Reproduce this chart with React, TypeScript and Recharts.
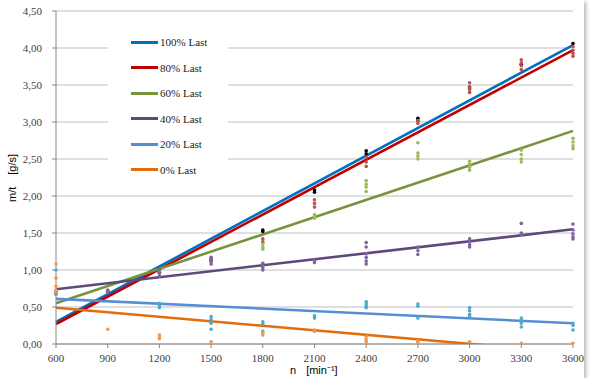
import React from 'react';
import { ComposedChart, Line, Scatter, XAxis, YAxis, CartesianGrid, Legend } from 'recharts';

// measured points [n in min-1, m/t in g/s]
const pts100 = [
  { n: 600, v: 0.70 }, { n: 900, v: 0.72 }, { n: 1200, v: 0.97 }, { n: 1500, v: 1.13 },
  { n: 1800, v: 1.54 }, { n: 1800, v: 1.52 }, { n: 2100, v: 2.08 }, { n: 2100, v: 2.05 },
  { n: 2400, v: 2.61 }, { n: 2400, v: 2.57 }, { n: 2700, v: 3.05 }, { n: 2700, v: 3.02 },
  { n: 3000, v: 3.46 }, { n: 3300, v: 3.78 }, { n: 3600, v: 4.06 },
];
const pts80 = [
  { n: 600, v: 0.70 }, { n: 900, v: 0.71 }, { n: 1200, v: 0.96 }, { n: 1500, v: 1.16 },
  { n: 1800, v: 1.42 }, { n: 1800, v: 1.38 }, { n: 2100, v: 1.95 }, { n: 2100, v: 1.90 }, { n: 2100, v: 1.85 },
  { n: 2400, v: 2.52 }, { n: 2400, v: 2.46 }, { n: 2400, v: 2.40 }, { n: 2700, v: 3.02 }, { n: 2700, v: 2.98 },
  { n: 3000, v: 3.53 }, { n: 3000, v: 3.48 }, { n: 3000, v: 3.44 }, { n: 3000, v: 3.40 },
  { n: 3300, v: 3.84 }, { n: 3300, v: 3.80 }, { n: 3300, v: 3.76 }, { n: 3300, v: 3.71 },
  { n: 3600, v: 4.02 }, { n: 3600, v: 3.97 }, { n: 3600, v: 3.93 }, { n: 3600, v: 3.89 },
];
const pts60 = [
  { n: 600, v: 0.69 }, { n: 900, v: 0.72 }, { n: 1200, v: 0.98 }, { n: 1500, v: 1.12 },
  { n: 1800, v: 1.35 }, { n: 1800, v: 1.31 }, { n: 1800, v: 1.28 },
  { n: 2100, v: 1.75 }, { n: 2100, v: 1.72 }, { n: 2100, v: 1.70 },
  { n: 2400, v: 2.21 }, { n: 2400, v: 2.16 }, { n: 2400, v: 2.12 }, { n: 2400, v: 2.06 },
  { n: 2700, v: 2.72 }, { n: 2700, v: 2.58 }, { n: 2700, v: 2.54 }, { n: 2700, v: 2.50 },
  { n: 3000, v: 2.47 }, { n: 3000, v: 2.43 }, { n: 3000, v: 2.39 }, { n: 3000, v: 2.35 },
  { n: 3300, v: 2.62 }, { n: 3300, v: 2.56 }, { n: 3300, v: 2.50 }, { n: 3300, v: 2.46 },
  { n: 3600, v: 2.78 }, { n: 3600, v: 2.73 }, { n: 3600, v: 2.68 }, { n: 3600, v: 2.64 },
];
const pts40 = [
  { n: 600, v: 0.70 }, { n: 600, v: 0.68 }, { n: 900, v: 0.73 }, { n: 900, v: 0.70 },
  { n: 1200, v: 1.00 }, { n: 1200, v: 0.96 }, { n: 1200, v: 0.92 },
  { n: 1500, v: 1.17 }, { n: 1500, v: 1.14 }, { n: 1500, v: 1.11 }, { n: 1500, v: 1.08 },
  { n: 1800, v: 1.09 }, { n: 1800, v: 1.06 }, { n: 1800, v: 1.03 }, { n: 1800, v: 1.00 },
  { n: 2100, v: 1.13 }, { n: 2100, v: 1.10 },
  { n: 2400, v: 1.37 }, { n: 2400, v: 1.31 }, { n: 2400, v: 1.22 }, { n: 2400, v: 1.17 }, { n: 2400, v: 1.12 }, { n: 2400, v: 1.08 },
  { n: 2700, v: 1.31 }, { n: 2700, v: 1.26 }, { n: 2700, v: 1.21 },
  { n: 3000, v: 1.42 }, { n: 3000, v: 1.38 }, { n: 3000, v: 1.34 }, { n: 3000, v: 1.31 },
  { n: 3300, v: 1.63 }, { n: 3300, v: 1.50 }, { n: 3300, v: 1.48 },
  { n: 3600, v: 1.62 }, { n: 3600, v: 1.54 }, { n: 3600, v: 1.49 }, { n: 3600, v: 1.45 }, { n: 3600, v: 1.42 },
];
const pts20 = [
  { n: 600, v: 1.00 }, { n: 600, v: 0.67 },
  { n: 1200, v: 0.55 }, { n: 1200, v: 0.52 }, { n: 1200, v: 0.49 },
  { n: 1500, v: 0.37 }, { n: 1500, v: 0.33 }, { n: 1500, v: 0.28 }, { n: 1500, v: 0.20 },
  { n: 1800, v: 0.30 }, { n: 1800, v: 0.27 }, { n: 1800, v: 0.17 },
  { n: 2100, v: 0.38 }, { n: 2100, v: 0.35 },
  { n: 2400, v: 0.57 }, { n: 2400, v: 0.54 }, { n: 2400, v: 0.51 }, { n: 2400, v: 0.49 },
  { n: 2700, v: 0.54 }, { n: 2700, v: 0.51 }, { n: 2700, v: 0.35 },
  { n: 3000, v: 0.49 }, { n: 3000, v: 0.45 }, { n: 3000, v: 0.40 }, { n: 3000, v: 0.37 },
  { n: 3300, v: 0.35 }, { n: 3300, v: 0.32 }, { n: 3300, v: 0.28 }, { n: 3300, v: 0.23 },
  { n: 3600, v: 0.28 }, { n: 3600, v: 0.25 }, { n: 3600, v: 0.19 },
];
const pts0 = [
  { n: 600, v: 1.08 }, { n: 600, v: 0.89 }, { n: 600, v: 0.78 }, { n: 600, v: 0.73 }, { n: 600, v: 0.70 },
  { n: 900, v: 0.20 },
  { n: 1200, v: 0.12 }, { n: 1200, v: 0.10 }, { n: 1200, v: 0.07 },
  { n: 1500, v: 0.03 }, { n: 1800, v: 0.15 }, { n: 1800, v: 0.12 },
  { n: 2100, v: 0.19 }, { n: 2100, v: 0.17 },
  { n: 2400, v: 0.10 }, { n: 2400, v: 0.06 }, { n: 2400, v: 0.03 },
  { n: 2700, v: 0.04 }, { n: 2700, v: 0.02 }, { n: 3000, v: 0.03 }, { n: 3300, v: 0.01 }, { n: 3600, v: 0.01 },
];

// linear trend lines, value at n = 600 and n = 3600
const trendN = [600, 3600];
const trend100 = [0.30, 4.04];
const trend80 = [0.27, 3.97];
const trend60 = [0.55, 2.88];
const trend40 = [0.74, 1.55];
const trend20 = [0.61, 0.28];
const trend0 = [0.49, -0.12];

const xTicks = [600, 900, 1200, 1500, 1800, 2100, 2400, 2700, 3000, 3300, 3600];
const yTicks = [0, 0.5, 1, 1.5, 2, 2.5, 3, 3.5, 4, 4.5];

const series = [
  { name: '100% Last', pts: pts100, trend: trend100, dot: '#000000', line: '#0070C0' },
  { name: '80% Last', pts: pts80, trend: trend80, dot: '#C0504D', line: '#C00000' },
  { name: '60% Last', pts: pts60, trend: trend60, dot: '#9BBB59', line: '#77933C' },
  { name: '40% Last', pts: pts40, trend: trend40, dot: '#8064A2', line: '#5F497A' },
  { name: '20% Last', pts: pts20, trend: trend20, dot: '#4BACC6', line: '#558ED5' },
  { name: '0% Last', pts: pts0, trend: trend0, dot: '#F79646', line: '#E46C0A' },
];

const tickStyle = { fontFamily: '"Liberation Serif", serif', fontSize: 11, fill: '#404040' };
const titleFont = '"Liberation Sans", Arial, sans-serif';

const LegendBox = () => (
  <div style={{ position: 'relative', width: 120, height: 158, background: '#fff' }}>
    {series.map((s, i) => (
      <div key={s.name} style={{ position: 'absolute', left: 23, top: 13 + i * 25.5, height: 14, display: 'flex', alignItems: 'center' }}>
        <div style={{ width: 27, height: 3, background: s.line, marginRight: 2 }} />
        <span style={{ fontFamily: '"Liberation Serif", serif', fontSize: 11, color: '#222' }}>{s.name}</span>
      </div>
    ))}
  </div>
);

const fmt = (v: number) => v.toFixed(2).replace('.', ',');

export default function App() {
  return (
    <div>
      <style>{'body{margin:0}'}</style>
      <div style={{ width: 584, height: 378, background: '#fff', boxShadow: '2px 2px 4px rgba(0,0,0,0.3)' }}>
        <ComposedChart width={584} height={378} margin={{ top: 11, right: 11, bottom: 8, left: 0 }}>
          <CartesianGrid vertical={false} stroke="#BFBFBF" strokeWidth={1} />
          <XAxis
            type="number"
            dataKey="n"
            domain={[600, 3600]}
            ticks={xTicks}
            interval={0}
            height={26}
            tick={tickStyle}
            tickSize={4}
            tickMargin={6}
            stroke="#868686"
            label={{
              content: () => (
                <text x={290} y={374} fontFamily={titleFont} fontSize={11} fill="#000">
                  <tspan>n</tspan>
                  <tspan dx={10}>[min⁻¹]</tspan>
                </text>
              ),
            }}
          />
          <YAxis
            type="number"
            domain={[0, 4.5]}
            ticks={yTicks}
            allowDataOverflow
            width={56}
            tick={tickStyle}
            tickSize={4}
            tickMargin={10}
            tickFormatter={fmt}
            stroke="#868686"
            label={{
              content: () => (
                <text x={16} y={178} transform="rotate(-90 16 178)" textAnchor="middle" fontFamily={titleFont} fontSize={11} fill="#000">
                  <tspan>m/t</tspan>
                  <tspan dx={12}>[g/s]</tspan>
                </text>
              ),
            }}
          />
          {series.map((s) => (
            <Scatter
              key={'p' + s.name}
              name={s.name}
              data={s.pts}
              dataKey="v"
              isAnimationActive={false}
              legendType="none"
              shape={(p: any) => <circle cx={p.cx} cy={p.cy} r={1.8} fill={s.dot} />}
            />
          ))}
          {series.map((s) => (
            <Line
              key={'t' + s.name}
              name={s.name}
              data={trendN.map((n, i) => ({ n, v: s.trend[i] }))}
              dataKey="v"
              stroke={s.line}
              strokeWidth={2.6}
              dot={false}
              activeDot={false}
              isAnimationActive={false}
            />
          ))}
          <Legend
            layout="vertical"
            align="center"
            verticalAlign="middle"
            content={<LegendBox />}
            wrapperStyle={{ left: 108, top: 22, width: 120, height: 158 }}
          />
        </ComposedChart>
      </div>
    </div>
  );
}
